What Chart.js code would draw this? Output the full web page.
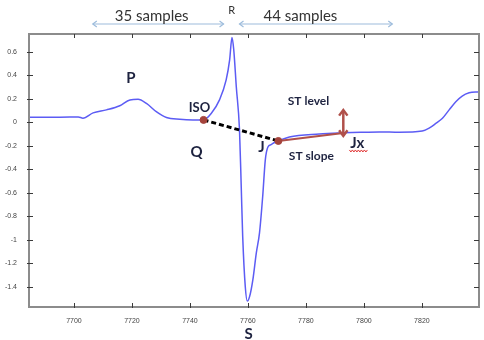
<!DOCTYPE html>
<html>
<head>
<meta charset="utf-8">
<script src="https://cdn.jsdelivr.net/npm/chart.js@4/dist/chart.umd.min.js"></script>
<style>
  html, body { margin: 0; padding: 0; background: #fff; }
  canvas { display: block; }
</style>
</head>
<body>
<canvas id="ecg" width="484" height="340"></canvas>
<script>
// ECG beat, sample index vs amplitude
const sampleIdx = [7684.5, 7691.7, 7698.6, 7701.5, 7703.1, 7706.6, 7711.2, 7715.8, 7719.3, 7722.1,
                   7725.0, 7728.4, 7731.9, 7736.5, 7741.0, 7744.7, 7747.4, 7750.2, 7752.5, 7753.7,
                   7754.5, 7755.1, 7756.0, 7757.1, 7757.7, 7758.2, 7759.1, 7759.8, 7760.6, 7761.7,
                   7762.9, 7764.0, 7765.1, 7766.0, 7766.9, 7768.0, 7769.3, 7770.5, 7774.3, 7784.6,
                   7792.9, 7799.0, 7805.3, 7812.2, 7820.1, 7822.5, 7824.8, 7827.1, 7829.4, 7831.7,
                   7833.9, 7836.3, 7839.7];
const amplitude = [0.042, 0.042, 0.045, 0.045, 0.035, 0.08, 0.105, 0.14, 0.19, 0.195,
                   0.16, 0.09, 0.04, 0.025, 0.02, 0.02, 0.076, 0.19, 0.36, 0.53,
                   0.72, 0.62, 0.30, -0.065, -0.55, -0.97, -1.40, -1.52, -1.48, -1.34,
                   -1.11, -0.94, -0.63, -0.32, -0.21, -0.19, -0.17, -0.159, -0.125, -0.10,
                   -0.09, -0.085, -0.082, -0.085, -0.075, -0.05, -0.01, 0.034, 0.105, 0.175,
                   0.223, 0.25, 0.26];

const xTicks = [7700, 7720, 7740, 7760, 7780, 7800, 7820];
const yTicks = [0.6, 0.4, 0.2, 0, -0.2, -0.4, -0.6, -0.8, -1, -1.2, -1.4];

// fiducial points
const isoPoint = { x: 7744.7, y: 0.02 };
const jPoint = { x: 7770.5, y: -0.159 };
const jxPoint = { x: 7792.9, y: -0.091 };
const stLevelRange = [0.104, -0.116];

const ecgPoints = sampleIdx.map((s, i) => ({ x: s, y: amplitude[i] }));

const INK = '#1e2340';
const RED = '#b0504a';

function drawArrowHead(ctx, x, y, dir, size) {
    // dir: angle the arrow points to
    ctx.beginPath();
    ctx.moveTo(x + Math.cos(dir + 2.5) * size, y + Math.sin(dir + 2.5) * size);
    ctx.lineTo(x, y);
    ctx.lineTo(x + Math.cos(dir - 2.5) * size, y + Math.sin(dir - 2.5) * size);
    ctx.stroke();
}

const annotate = {
    id: 'annotate',
    afterDatasetsDraw(chart) {
        const { ctx, chartArea: a, scales } = chart;
        const px = v => scales.x.getPixelForValue(v);
        const py = v => scales.y.getPixelForValue(v);
        ctx.save();

        // frame
        ctx.strokeStyle = '#8c8c8c';
        ctx.lineWidth = 2;
        ctx.strokeRect(a.left, a.top, a.right - a.left, a.bottom - a.top);

        // tick marks, left/bottom crossing the axis, top/right pointing inward
        ctx.strokeStyle = '#3a3a3a';
        ctx.lineWidth = 1;
        yTicks.forEach(v => {
            const yy = Math.round(py(v)) + 0.5;
            ctx.beginPath(); ctx.moveTo(a.left - 2, yy); ctx.lineTo(a.left + 4, yy); ctx.stroke();
            ctx.beginPath(); ctx.moveTo(a.right - 5, yy); ctx.lineTo(a.right, yy); ctx.stroke();
        });
        xTicks.forEach(v => {
            const xx = Math.round(px(v)) + 0.5;
            ctx.beginPath(); ctx.moveTo(xx, a.bottom + 1); ctx.lineTo(xx, a.bottom - 4); ctx.stroke();
            ctx.beginPath(); ctx.moveTo(xx, a.top); ctx.lineTo(xx, a.top + 4); ctx.stroke();
        });

        // ST level double arrow
        ctx.strokeStyle = RED;
        ctx.lineWidth = 2.5;
        const ax = px(jxPoint.x);
        const y1 = py(stLevelRange[0]), y2 = py(stLevelRange[1]);
        ctx.beginPath(); ctx.moveTo(ax, y1); ctx.lineTo(ax, y2); ctx.stroke();
        drawArrowHead(ctx, ax, y1, -Math.PI / 2, 7);
        drawArrowHead(ctx, ax, y2, Math.PI / 2, 7);

        // top "samples" arrows
        ctx.strokeStyle = '#9dbcdc';
        ctx.lineWidth = 1.2;
        [[7706.5, 7751.6], [7757.1, 7809.8]].forEach(([s0, s1]) => {
            const yy = py(0.835);
            ctx.beginPath(); ctx.moveTo(px(s0), yy); ctx.lineTo(px(s1), yy); ctx.stroke();
            drawArrowHead(ctx, px(s0), yy, Math.PI, 5);
            drawArrowHead(ctx, px(s1), yy, 0, 5);
        });

        // labels
        ctx.textAlign = 'center';
        ctx.textBaseline = 'middle';
        const labels = [
            ['35 samples', 7726.8, 0.903, '15px Lato', '#333'],
            ['44 samples', 7778.1, 0.903, '15px Lato', '#333'],
            ['R', 7754.4, 0.954, '11px Lato', '#333'],
            ['P', 7719.6, 0.376, 'bold 15px Lato', INK],
            ['ISO', 7743.3, 0.121, 'bold 13px Lato', INK],
            ['Q', 7742.3, -0.252, 'bold 15px Lato', INK],
            ['J', 7764.7, -0.21, 'bold 15px Lato', INK],
            ['S', 7760.2, -1.80, 'bold 15px Lato', INK],
            ['ST level', 7780.9, 0.181, 'bold 12px Lato', INK],
            ['ST slope', 7781.9, -0.286, 'bold 12px Lato', INK],
            ['Jx', 7797.7, -0.176, 'bold 15px Lato', INK]
        ];
        labels.forEach(([t, sx, sy, font, color]) => {
            ctx.font = font;
            ctx.fillStyle = color;
            ctx.fillText(t, px(sx), py(sy));
        });

        // spell-check squiggle under Jx
        ctx.strokeStyle = '#e03030';
        ctx.lineWidth = 1;
        ctx.beginPath();
        const sq0 = px(7795.0), sq1 = px(7801.3), sqy = py(-0.244);
        for (let xx = sq0, k = 0; xx <= sq1; xx += 1.5, k++) {
            const yy = sqy + (k % 2 ? 1 : -1);
            if (k === 0) ctx.moveTo(xx, yy); else ctx.lineTo(xx, yy);
        }
        ctx.stroke();

        ctx.restore();
    }
};

new Chart(document.getElementById('ecg').getContext('2d'), {
    type: 'line',
    data: {
        datasets: [{
            label: 'ECG',
            data: ecgPoints,
            borderColor: '#5c5cf4',
            borderWidth: 1.5,
            pointRadius: 0,
            cubicInterpolationMode: 'monotone',
            fill: false,
            order: 4
        }, {
            label: 'ISO-J',
            data: [isoPoint, jPoint],
            borderColor: '#000',
            borderWidth: 3,
            borderDash: [5, 3],
            pointRadius: 0,
            fill: false,
            order: 3
        }, {
            label: 'ST slope',
            data: [jPoint, jxPoint],
            borderColor: RED,
            borderWidth: 2,
            pointRadius: 0,
            fill: false,
            order: 2
        }, {
            label: 'fiducials',
            data: [isoPoint, jPoint],
            showLine: false,
            pointRadius: 3.5,
            pointBackgroundColor: '#a4433c',
            pointBorderColor: '#a4433c',
            order: 1
        }]
    },
    options: {
        responsive: false,
        animation: false,
        devicePixelRatio: 1,
        layout: { padding: { top: 34, right: 4, bottom: 0, left: 0 } },
        scales: {
            x: {
                type: 'linear',
                min: 7684.5,
                max: 7839.7,
                grid: { display: false },
                border: { display: false },
                afterBuildTicks: s => { s.ticks = xTicks.map(v => ({ value: v })); },
                afterFit: s => { s.height = 33; },
                ticks: {
                    padding: 2,
                    maxRotation: 0,
                    color: '#444',
                    font: { size: 7, family: 'Liberation Sans' },
                    callback: v => String(v)
                }
            },
            y: {
                min: -1.57,
                max: 0.75,
                grid: { display: false },
                border: { display: false },
                afterBuildTicks: s => { s.ticks = yTicks.map(v => ({ value: v })); },
                afterFit: s => { s.width = 29; },
                ticks: {
                    padding: 4,
                    color: '#444',
                    font: { size: 7, family: 'Liberation Sans' },
                    callback: v => String(Math.round(v * 10) / 10)
                }
            }
        },
        plugins: {
            legend: { display: false },
            tooltip: { enabled: false }
        }
    },
    plugins: [annotate]
});
</script>
</body>
</html>
